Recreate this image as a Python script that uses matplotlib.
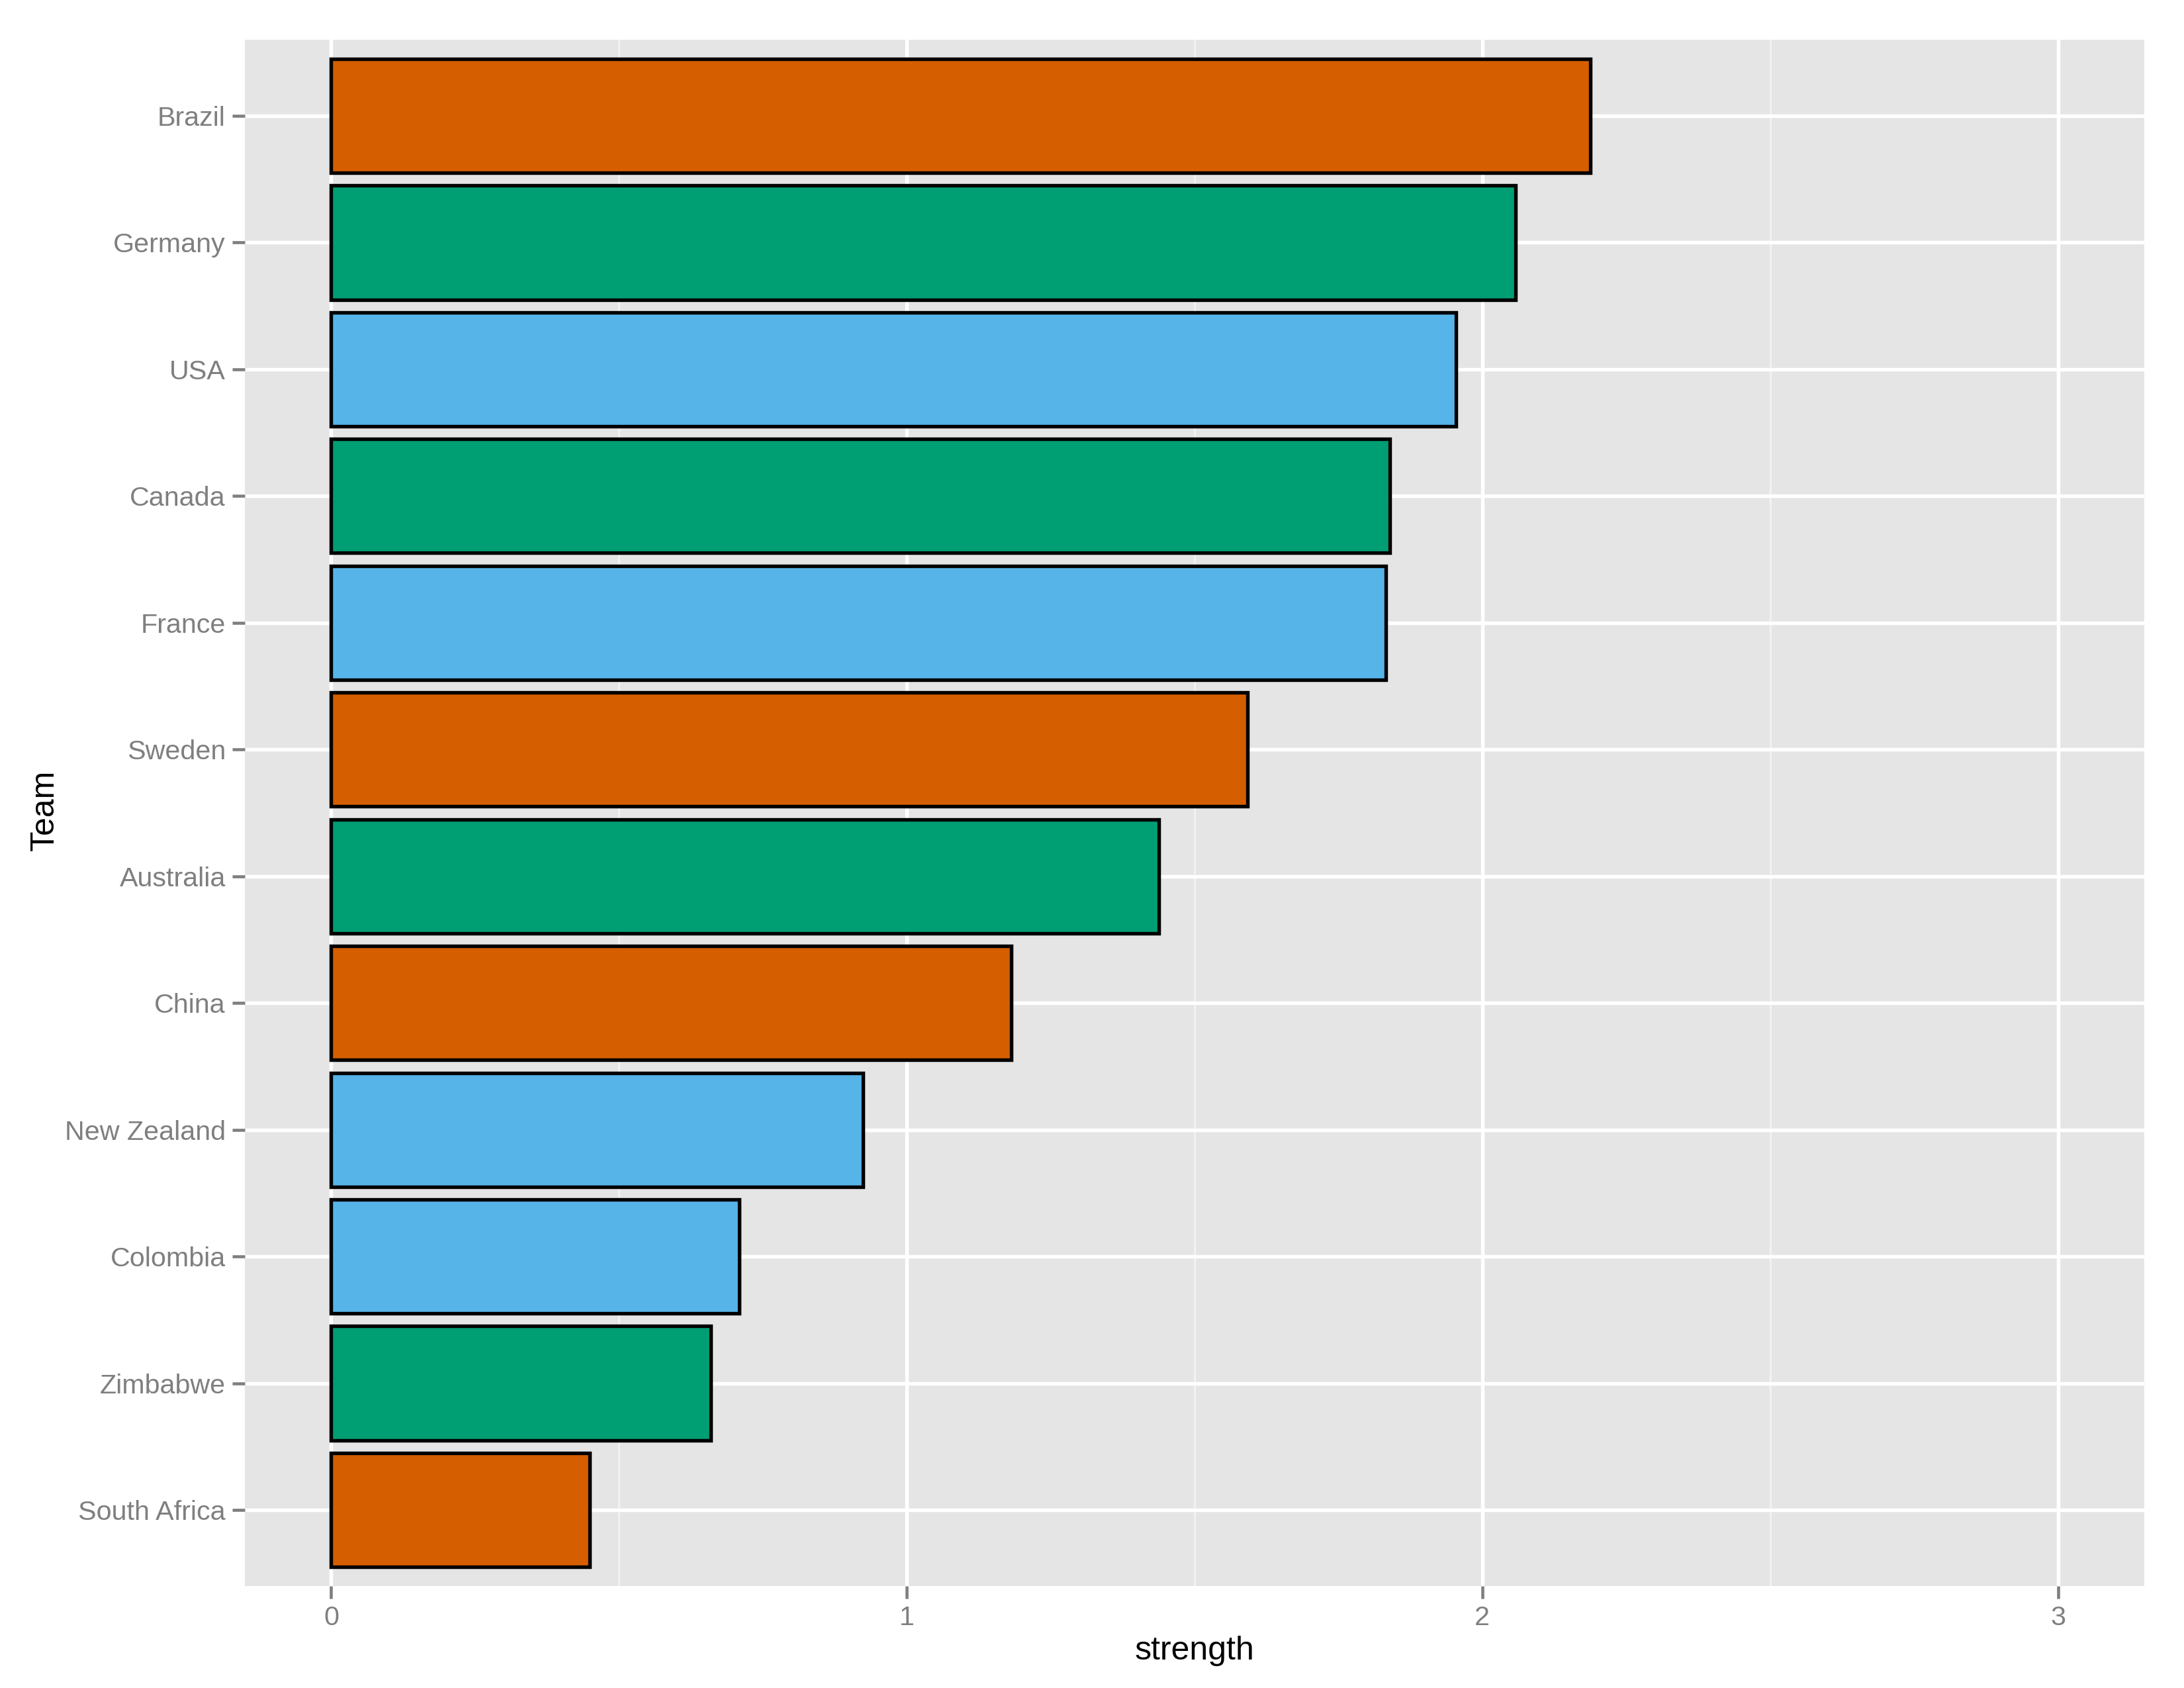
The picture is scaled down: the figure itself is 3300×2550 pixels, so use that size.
import matplotlib.pyplot as plt
import numpy as np
from matplotlib.ticker import MultipleLocator

# data, top to bottom
teams = ["Brazil", "Germany", "USA", "Canada", "France", "Sweden",
         "Australia", "China", "New Zealand", "Colombia", "Zimbabwe", "South Africa"]
strength = [2.188, 2.058, 1.954, 1.839, 1.832, 1.592,
            1.438, 1.182, 0.924, 0.709, 0.660, 0.449]
group = ["a", "b", "c", "b", "c", "a", "b", "a", "c", "c", "b", "a"]

palette = {"a": "#D55E00", "b": "#009E73", "c": "#56B4E9"}

plt.rcParams['font.family'] = ['Liberation Sans', 'DejaVu Sans']

fig = plt.figure(figsize=(11, 8.5), dpi=300)
ax = fig.add_axes([370 / 3300, 154 / 2550, 2870 / 3300, 2336 / 2550])

# first team at the top
ypos = np.arange(len(teams))[::-1] + 1
ax.barh(ypos, strength, height=0.9, color=[palette[g] for g in group],
        edgecolor="black", linewidth=1.3, zorder=3)

ax.set_xlim(-0.15, 3.15)
ax.set_ylim(0.4, len(teams) + 0.6)
ax.set_yticks(ypos)
ax.set_yticklabels(teams)
ax.xaxis.set_major_locator(MultipleLocator(1))
ax.xaxis.set_minor_locator(MultipleLocator(0.5))

# ggplot-ish grey panel
ax.set_facecolor("#E5E5E5")
ax.set_axisbelow(True)
ax.grid(which="major", color="white", linewidth=1.3)
ax.grid(which="minor", axis="x", color="#F2F2F2", linewidth=0.7)
for s in ax.spines.values():
    s.set_visible(False)

ax.tick_params(which="major", length=4.5, width=1.1, color="#7F7F7F",
               labelcolor="#7F7F7F", labelsize=9.9, pad=2.5)
ax.tick_params(which="minor", length=0)

fig.text(1805 / 3300, 1 - 2494 / 2550, "strength", ha="center", va="center",
         fontsize=12, color="black")
fig.text(68 / 3300, 1 - 1224 / 2550, "Team", ha="center", va="center",
         rotation=90, fontsize=12, color="black")

fig.savefig("out.png", dpi=300, facecolor="white")
